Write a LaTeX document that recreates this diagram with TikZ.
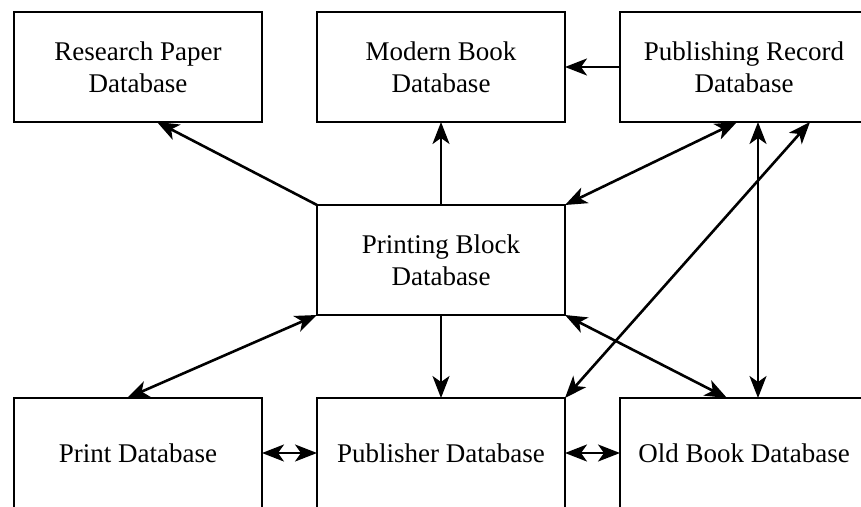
\documentclass[tikz,border=0pt]{standalone}
\usepackage{fontspec}
\setmainfont{Liberation Serif}
\usetikzlibrary{arrows.meta}
\begin{document}
\begin{tikzpicture}[x=1pt,y=-1pt,
  dbbox/.style={draw, line width=2.8pt, minimum width=248pt, minimum height=110pt,
    align=center, inner sep=0pt, outer sep=0pt,
    font=\fontsize{27}{32}\selectfont},
  link/.style={line width=2.6pt, -{Stealth[length=22pt,width=17pt,inset=6pt]}},
  dlink/.style={line width=2.6pt, {Stealth[length=22pt,width=17pt,inset=6pt]}-{Stealth[length=22pt,width=17pt,inset=6pt]}}]
\useasboundingbox (0,0) rectangle (861,506);
\clip (0,0) rectangle (861,506);

% database boxes
\node[dbbox] (rp) at (138,67)  {Research Paper\\Database};
\node[dbbox] (mb) at (441,67)  {Modern Book\\Database};
\node[dbbox] (pr) at (744,67)  {Publishing Record\\Database};
\node[dbbox] (pb) at (441,260) {Printing Block\\Database};
\node[dbbox] (pd) at (138,453) {Print Database};
\node[dbbox] (pu) at (441,453) {Publisher Database};
\node[dbbox] (ob) at (744,453) {Old Book Database};

% one-way links
\draw[link] (pb.north west) -- ([xshift=19pt]rp.south);
\draw[link] (pb.north) -- (mb.south);
\draw[link] (pr.west) -- (mb.east);
\draw[link] (pb.south) -- (pu.north);

% two-way links
\draw[dlink] (pb.north east) -- ([xshift=-7pt]pr.south);
\draw[dlink] ([xshift=14pt]pr.south) -- ([xshift=14pt]ob.north);
\draw[dlink] (pu.north east) -- ([xshift=66pt]pr.south);
\draw[dlink] (pb.south east) -- ([xshift=-17pt]ob.north);
\draw[dlink] (pb.south west) -- ([xshift=-11pt]pd.north);
\draw[dlink] (pd.east) -- (pu.west);
\draw[dlink] (pu.east) -- (ob.west);
\end{tikzpicture}
\end{document}
